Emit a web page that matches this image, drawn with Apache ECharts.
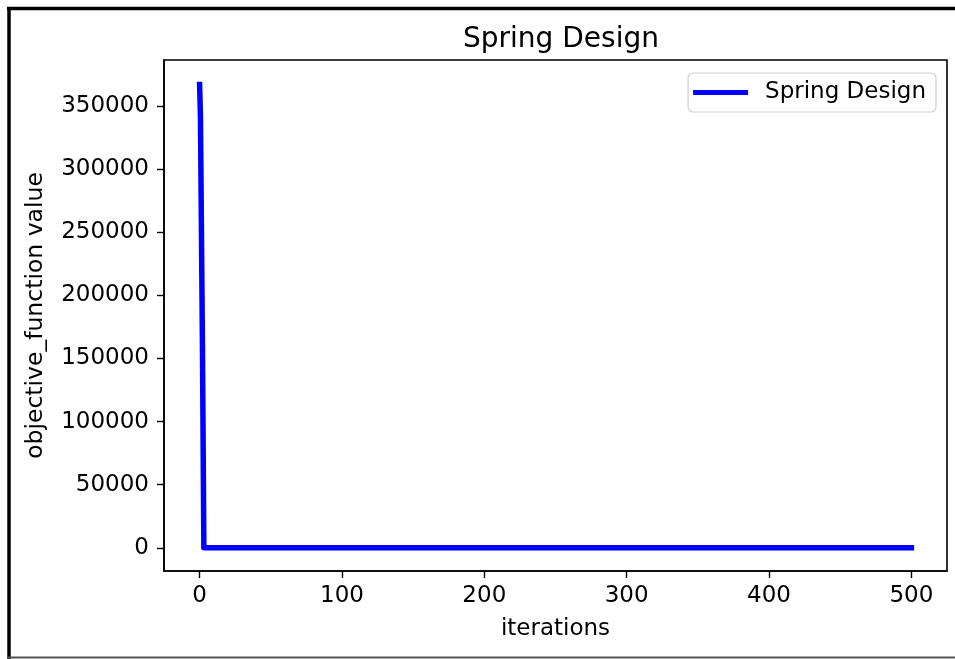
<!DOCTYPE html>
<html>
<head>
<meta charset="utf-8">
<script src="https://cdn.jsdelivr.net/npm/echarts@6/dist/echarts.min.js"></script>
<style>
html,body{margin:0;padding:0;background:#fff;}
#chart{width:955px;height:659px;}
</style>
</head>
<body>
<div id="chart"></div>
<script>
// Data
const seriesName = 'Spring Design';
const iterations = [0, 0.6, 2, 3, 500];
const objectiveValues = [367000, 342000, 160000, 0.0127, 0.0127];
const xTicks = [0, 100, 200, 300, 400, 500];
const yTicks = [0, 50000, 100000, 150000, 200000, 250000, 300000, 350000];

const FONT = 'DejaVu Sans';
const chart = echarts.init(document.getElementById('chart'), null, {renderer: 'canvas'});

const points = iterations.map((x, i) => [x, objectiveValues[i]]);

chart.setOption({
  animation: false,
  backgroundColor: '#ffffff',
  textStyle: {fontFamily: FONT},
  title: {
    text: 'Spring Design',
    left: 556,
    top: 21,
    textAlign: 'center',
    textStyle: {fontFamily: FONT, fontSize: 28, fontWeight: 'normal', color: '#000'}
  },
  grid: {
    left: 164, top: 60, right: 8, bottom: 88,
    show: true, borderColor: '#000', borderWidth: 1.6, backgroundColor: 'transparent'
  },
  legend: {
    data: [seriesName],
    right: 19, top: 73,
    orient: 'horizontal',
    backgroundColor: '#fff',
    borderColor: '#cfcfcf',
    borderWidth: 1.2,
    borderRadius: 5,
    padding: [8, 10, 8, 5],
    itemWidth: 55,
    itemHeight: 5,
    icon: 'rect',
    textStyle: {fontFamily: FONT, fontSize: 23, color: '#000', padding: [0, 0, 0, 12]}
  },
  xAxis: {
    type: 'value',
    min: -25, max: 525,
    name: 'iterations',
    nameLocation: 'middle',
    nameGap: 47,
    nameTextStyle: {fontFamily: FONT, fontSize: 23, color: '#000'},
    axisLine: {show: true, onZero: false, lineStyle: {color: '#000', width: 1.6}},
    axisTick: {show: true, length: 7, lineStyle: {color: '#000', width: 1.4}, customValues: xTicks},
    axisLabel: {fontFamily: FONT, fontSize: 23, color: '#000', margin: 14, customValues: xTicks,
      formatter: v => String(v)},
    splitLine: {show: false}
  },
  yAxis: {
    type: 'value',
    min: -18400, max: 386400,
    name: 'objective_function value',
    nameLocation: 'middle',
    nameGap: 116,
    nameRotate: 90,
    nameTextStyle: {fontFamily: FONT, fontSize: 23.5, color: '#000'},
    axisLine: {show: true, onZero: false, lineStyle: {color: '#000', width: 1.6}},
    axisTick: {show: true, length: 7, lineStyle: {color: '#000', width: 1.4}, customValues: yTicks},
    axisLabel: {fontFamily: FONT, fontSize: 23, color: '#000', margin: 15, customValues: yTicks,
      formatter: v => String(v)},
    splitLine: {show: false}
  },
  series: [{
    name: seriesName,
    type: 'line',
    data: points,
    showSymbol: false,
    symbol: 'none',
    color: '#0000ff',
    lineStyle: {color: '#0000ff', width: 5.5, cap: 'square', join: 'round'},
    clip: true
  }],
  graphic: [
    {type: 'line', shape: {x1: 7, y1: 8.5, x2: 955, y2: 8.5}, style: {stroke: '#000', lineWidth: 3.5}, silent: true},
    {type: 'line', shape: {x1: 9, y1: 7, x2: 9, y2: 659}, style: {stroke: '#000', lineWidth: 3.5}, silent: true},
    {type: 'line', shape: {x1: 7, y1: 657.5, x2: 955, y2: 657.5}, style: {stroke: '#555', lineWidth: 2}, silent: true}
  ]
});
</script>
</body>
</html>
